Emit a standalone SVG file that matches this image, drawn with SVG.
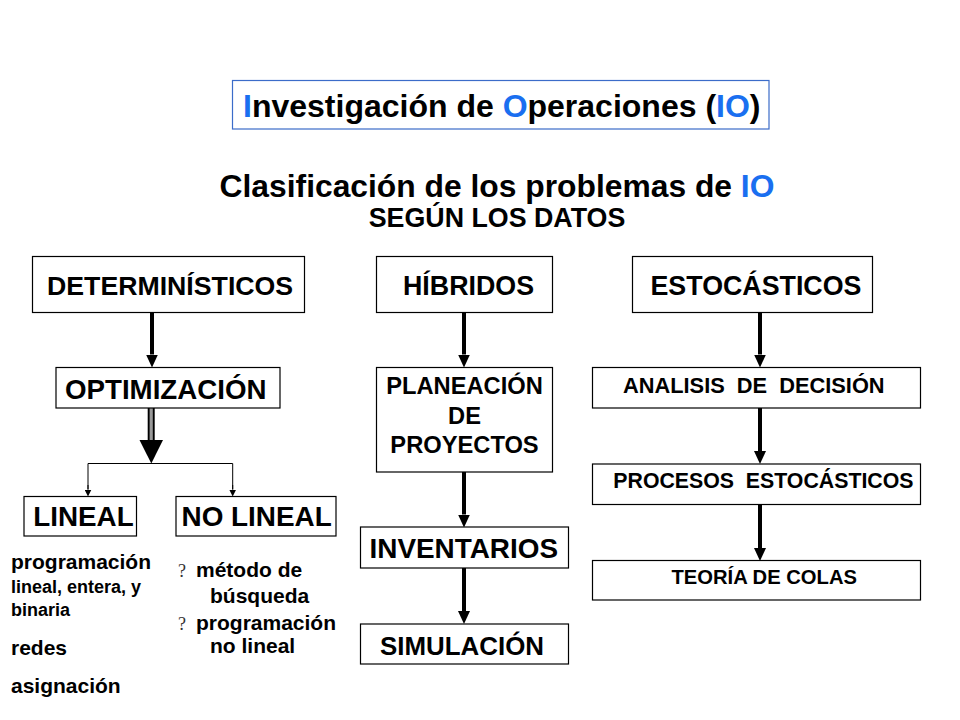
<svg xmlns="http://www.w3.org/2000/svg" width="960" height="720" viewBox="0 0 960 720">
<style>
text{font-family:"Liberation Sans",Arial,sans-serif;font-weight:bold;fill:#000}
.box{fill:#fff;stroke:#000;stroke-width:1.2}
.big{font-size:26.8px}
.mid{font-size:21.4px}
.pl{font-size:23.7px}
.list{font-size:21px}
.blue{fill:#1a6ff0}
.q{font-family:"Liberation Serif","Times New Roman",serif;font-weight:normal;font-size:18px;fill:#333}
.arr{stroke:#000;stroke-width:4;fill:none}
.thin{stroke:#000;stroke-width:1;fill:none}
</style>
<defs>
<marker id="ah" markerUnits="userSpaceOnUse" markerWidth="13" markerHeight="12" refX="0" refY="6" orient="auto">
<path d="M0,0 L13,6 L0,12 z" fill="#000"/>
</marker>
<marker id="ahs" markerUnits="userSpaceOnUse" markerWidth="7" markerHeight="7" refX="0" refY="3.5" orient="auto">
<path d="M0,0 L7,3.5 L0,7 z" fill="#000"/>
</marker>
</defs>
<rect width="960" height="720" fill="#fff"/>

<g id="title">
<rect x="232.5" y="80.5" width="536.5" height="48.5" fill="#fff" stroke="#3b6cc9" stroke-width="1.2"/>
<text x="243" y="117" font-size="32"><tspan class="blue">I</tspan>nvestigación de <tspan class="blue">O</tspan>peraciones (<tspan class="blue">IO</tspan>)</text>
</g>
<g id="subtitle">
<text x="497" y="197" font-size="31.8" text-anchor="middle">Clasificación de los problemas de <tspan class="blue">IO</tspan></text>
<text x="497" y="227" font-size="26.8" text-anchor="middle">SEGÚN LOS DATOS</text>
</g>

<g id="connectors">
<line class="arr" x1="152" y1="312" x2="152" y2="354.5" marker-end="url(#ah)"/>
<line class="arr" x1="464" y1="312" x2="464" y2="354.5" marker-end="url(#ah)"/>
<line class="arr" x1="760" y1="312" x2="760" y2="354.5" marker-end="url(#ah)"/>
<line class="arr" x1="760" y1="408" x2="760" y2="451" marker-end="url(#ah)"/>
<line class="arr" x1="760" y1="504" x2="760" y2="548" marker-end="url(#ah)"/>
<line class="arr" x1="464" y1="472" x2="464" y2="514.5" marker-end="url(#ah)"/>
<line class="arr" x1="464" y1="568" x2="464" y2="611" marker-end="url(#ah)"/>
<line x1="151.2" y1="408" x2="151.2" y2="442" stroke="#000" stroke-width="7"/>
<line x1="151.2" y1="408" x2="151.2" y2="442" stroke="#999" stroke-width="3.2"/>
<polygon points="139.5,440 163,440 151.3,463.5" fill="#000"/>
<polyline class="thin" points="88,489.5 88,463.5 232.7,463.5 232.7,489.5"/>
<line class="thin" x1="88" y1="485" x2="88" y2="489.5" marker-end="url(#ahs)"/>
<line class="thin" x1="232.7" y1="485" x2="232.7" y2="489.5" marker-end="url(#ahs)"/>
</g>

<g id="deterministicos">
<rect class="box" x="32.5" y="256.5" width="272" height="56"/>
<text x="47" y="295" font-size="26.7">DETERMINÍSTICOS</text>
</g>
<g id="hibridos">
<rect class="box" x="376.5" y="256.5" width="176" height="56"/>
<text class="big" x="403" y="295">HÍBRIDOS</text>
</g>
<g id="estocasticos">
<rect class="box" x="632.5" y="256.5" width="240" height="56"/>
<text class="big" x="650.5" y="295" font-size="26.6">ESTOCÁSTICOS</text>
</g>

<g id="optimizacion">
<rect class="box" x="56" y="367.5" width="224" height="40.5"/>
<text x="65" y="399" font-size="27.7">OPTIMIZACIÓN</text>
</g>
<g id="lineal">
<rect class="box" x="24" y="496.5" width="112.5" height="39.5"/>
<text x="33.3" y="526" font-size="27.8">LINEAL</text>
</g>
<g id="nolineal">
<rect class="box" x="176" y="496.5" width="160" height="39.5"/>
<text x="181.5" y="526" font-size="27.9">NO LINEAL</text>
</g>
<g id="lineal-list">
<text class="list" x="11" y="569">programación</text>
<text x="11" y="593" font-size="18">lineal, entera, y</text>
<text x="11" y="616" font-size="18">binaria</text>
<text class="list" x="11" y="655">redes</text>
<text class="list" x="11" y="693">asignación</text>
</g>
<g id="nolineal-list">
<text class="q" x="178" y="577">?</text>
<text class="list" x="196" y="577">método de</text>
<text class="list" x="210" y="603">búsqueda</text>
<text class="q" x="178" y="630">?</text>
<text class="list" x="196" y="630">programación</text>
<text class="list" x="210" y="653">no lineal</text>
</g>

<g id="planeacion">
<rect class="box" x="376.5" y="367.5" width="176" height="104.5"/>
<text class="pl" x="464.5" y="394" text-anchor="middle">PLANEACIÓN</text>
<text class="pl" x="464.5" y="423.5" text-anchor="middle">DE</text>
<text class="pl" x="464.5" y="453" text-anchor="middle">PROYECTOS</text>
</g>
<g id="inventarios">
<rect class="box" x="360.5" y="527" width="208" height="41"/>
<text x="369.5" y="558.3" font-size="27.9">INVENTARIOS</text>
</g>
<g id="simulacion">
<rect class="box" x="360.5" y="624" width="208" height="40"/>
<text x="380" y="655" font-size="25.9">SIMULACIÓN</text>
</g>

<g id="analisis">
<rect class="box" x="592.5" y="367.5" width="328" height="40.5"/>
<text x="623" y="393.3" font-size="21.8" xml:space="preserve">ANALISIS  DE  DECISIÓN</text>
</g>
<g id="procesos">
<rect class="box" x="592.5" y="464" width="328" height="40.5"/>
<text x="613.3" y="488" font-size="21.3" xml:space="preserve">PROCESOS  ESTOCÁSTICOS</text>
</g>
<g id="teoria">
<rect class="box" x="592.5" y="560.5" width="328" height="39.5"/>
<text x="671.5" y="584.3" font-size="20.2">TEORÍA DE COLAS</text>
</g>
</svg>
